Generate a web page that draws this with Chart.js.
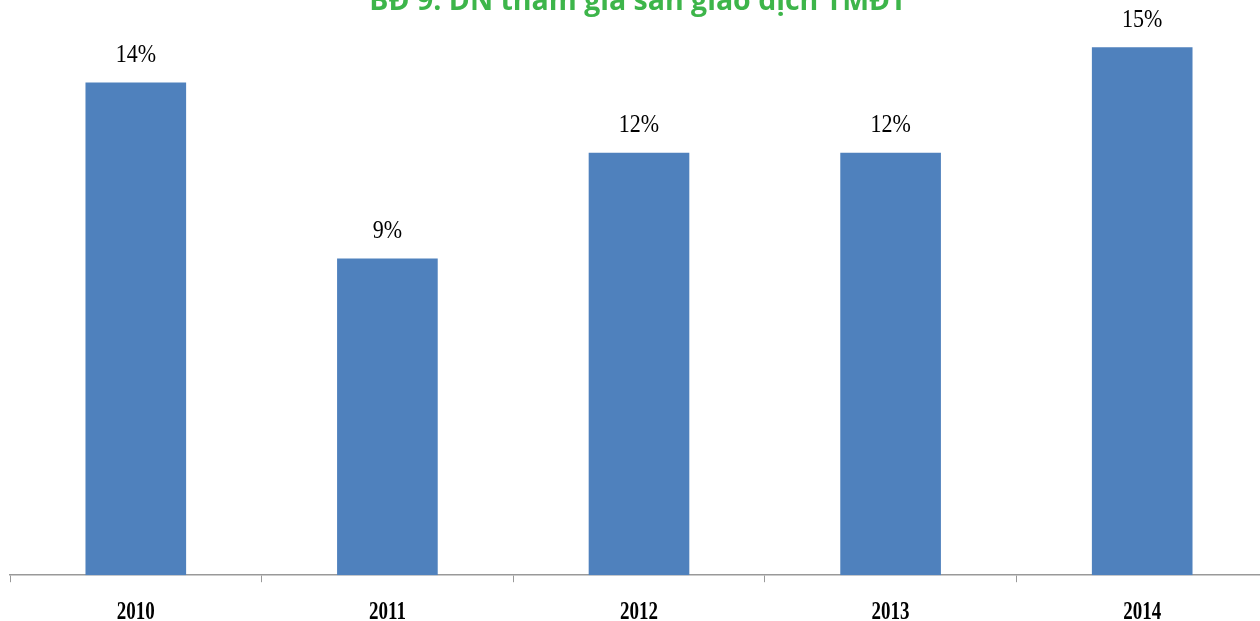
<!DOCTYPE html>
<html>
<head>
<meta charset="utf-8">
<script src="https://cdn.jsdelivr.net/npm/chart.js@4"></script>
<style>
  html, body { margin: 0; padding: 0; background: #fff; }
  #frame { width: 1260px; height: 621px; overflow: hidden; position: relative; }
  #box { width: 1268px; height: 635px; position: absolute; left: 0; top: 0; }
</style>
</head>
<body>
<div id="frame"><div id="box"><canvas id="chart"></canvas></div></div>
<script>
// Years and share of firms (%)
const years = ['2010', '2011', '2012', '2013', '2014'];
const shares = [14, 9, 12, 12, 15];
const chartTitle = 'BĐ 9: DN tham gia sàn giao dịch TMĐT';

// Title sits at the very top, partly above the canvas edge
const titlePlugin = {
  id: 'topTitle',
  afterDraw(chart) {
    const ctx = chart.ctx;
    ctx.save();
    ctx.font = 'bold 28.5px "Open Sans"';
    ctx.fillStyle = '#3db54a';
    ctx.textAlign = 'center';
    ctx.textBaseline = 'alphabetic';
    ctx.fillText(chartTitle, 638, 10);
    ctx.restore();
  }
};

// Draw text slightly stretched vertically (serif labels look tall)
function tallText(ctx, text, x, y, stretch) {
  ctx.save();
  ctx.translate(x, y);
  ctx.scale(1, stretch);
  ctx.fillText(text, 0, 0);
  ctx.restore();
}

// Percent labels above each bar, year labels under the axis
const labelPlugin = {
  id: 'labels',
  afterDatasetsDraw(chart) {
    const ctx = chart.ctx;
    const meta = chart.getDatasetMeta(0);
    const xScale = chart.scales.x;
    ctx.save();
    ctx.fillStyle = '#000';
    ctx.textAlign = 'center';
    ctx.textBaseline = 'middle';
    ctx.font = '22px "Liberation Serif"';
    meta.data.forEach((bar, i) => {
      tallText(ctx, shares[i] + '%', bar.x, bar.y - 27, 1.1);
    });
    ctx.font = 'bold 19px "Liberation Serif"';
    years.forEach((y, i) => {
      tallText(ctx, y, xScale.getPixelForValue(i), xScale.bottom - 22, 1.3);
    });
    ctx.restore();
  }
};

new Chart(document.getElementById('chart'), {
  type: 'bar',
  data: {
    labels: years,
    datasets: [{
      data: shares,
      backgroundColor: '#4f81bd',
      barPercentage: 0.4,
      categoryPercentage: 1
    }]
  },
  options: {
    responsive: true,
    maintainAspectRatio: false,
    animation: false,
    layout: { padding: { top: 12, left: 10, right: 0, bottom: 0 } },
    plugins: {
      legend: { display: false },
      tooltip: { enabled: false }
    },
    scales: {
      x: {
        grid: { drawOnChartArea: false, color: '#999', tickLength: 7 },
        border: { color: '#999', width: 1.5 },
        ticks: {
          color: 'rgba(0,0,0,0)',
          padding: 15,
          font: { family: '"Liberation Serif"', size: 19, weight: 'bold' }
        }
      },
      y: {
        display: false,
        min: 0,
        max: 16
      }
    }
  },
  plugins: [titlePlugin, labelPlugin]
});
</script>
</body>
</html>
